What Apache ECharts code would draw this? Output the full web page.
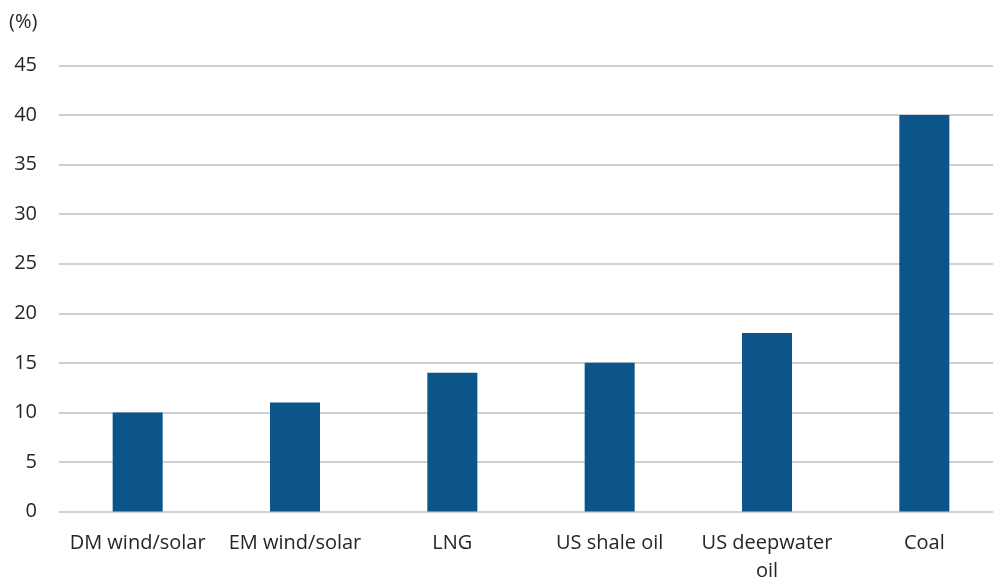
<!DOCTYPE html>
<html>
<head>
    <meta charset="utf-8">
    <title>Bar chart</title>
    <script src="https://cdn.jsdelivr.net/npm/echarts@6/dist/echarts.min.js"></script>
    <style>
        html, body { margin: 0; padding: 0; background: #fff; overflow: hidden; }
    </style>
</head>
<body>
<div id="main" style="width: 993px;height:578px;"></div>
<script type="text/javascript">

    /* data =====================*/
    var categories = ['DM wind/solar', 'EM wind/solar', 'LNG', 'US shale oil', 'US deepwater\noil', 'Coal'];
    var values = [10, 11, 14, 15, 18, 40];
    var yTicks = [0, 5, 10, 15, 20, 25, 30, 35, 40, 45];

    var textColor = '#262626';
    var fontName = 'Open Sans';

    var myChart = echarts.init(document.getElementById('main'));

    myChart.setOption({
        animation: false,
        grid: {
            left: 59,
            right: -10,
            top: 65.5,
            bottom: 66.5,
            outerBoundsMode: 'none'
        },
        graphic: [
            {
                type: 'text',
                left: 9,
                top: 12,
                style: {
                    text: '(%)',
                    fill: textColor,
                    font: '20px "' + fontName + '"'
                }
            }
        ],
        xAxis: {
            type: 'category',
            data: categories,
            axisLine: {show: false},
            axisTick: {show: false},
            axisLabel: {
                color: textColor,
                fontFamily: fontName,
                fontSize: 20,
                lineHeight: 28,
                margin: 18,
                interval: 0
            }
        },
        yAxis: {
            type: 'value',
            min: yTicks[0],
            max: yTicks[yTicks.length - 1],
            interval: 5,
            axisLine: {show: false},
            axisTick: {show: false},
            axisLabel: {
                color: textColor,
                fontFamily: fontName,
                fontSize: 20,
                margin: 22
            },
            splitLine: {
                lineStyle: {color: '#c0c0c0', width: 1.5}
            }
        },
        series: [
            {
                type: 'bar',
                data: values,
                barWidth: 50,
                itemStyle: {color: '#0b558b'}
            }
        ]
    });

</script>
</body>
</html>
